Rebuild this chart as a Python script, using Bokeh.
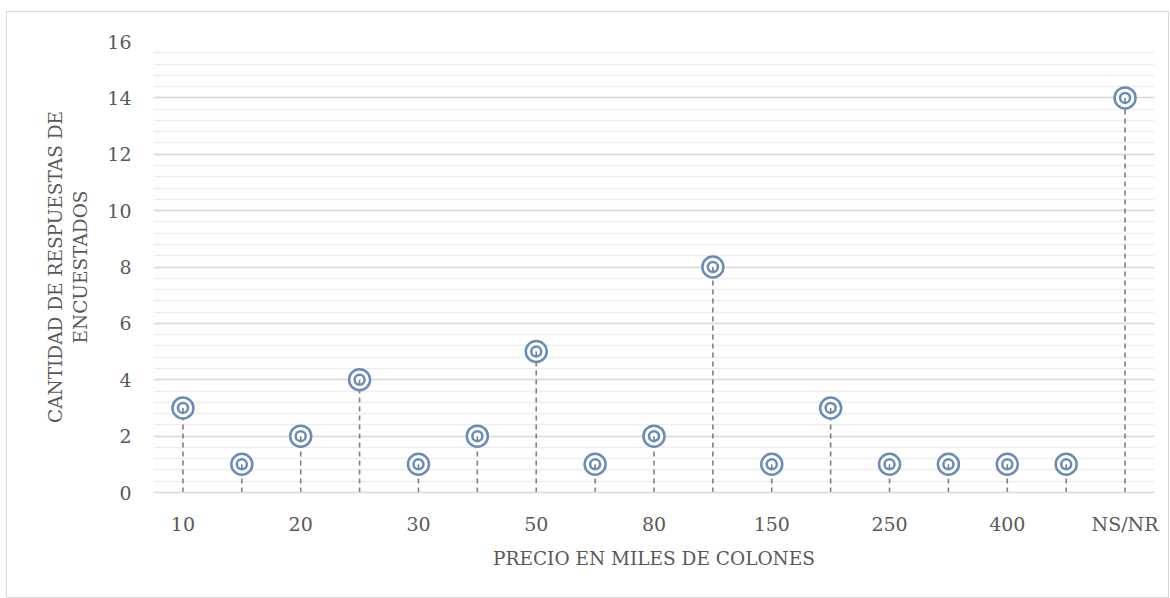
from bokeh.plotting import figure
from bokeh.models import Range1d, FixedTicker, ColumnDataSource
from bokeh.embed import file_html
from bokeh.resources import INLINE
import numpy as np

categories = ["10", "15", "20", "25", "30", "40", "50", "60", "80", "100",
              "150", "200", "250", "300", "400", "500", "NS/NR"]
values = [3, 1, 2, 4, 1, 2, 5, 1, 2, 8, 1, 3, 1, 1, 1, 1, 14]
y_ticks = [0, 2, 4, 6, 8, 10, 12, 14, 16]

FONT = "DejaVu Serif"
TXT = "#595959"

xs = list(range(len(categories)))
src = ColumnDataSource(dict(x=xs, y=values, y0=[0] * len(values),
                            yin=[v - 0.18 for v in values]))

p = figure(width=1163, height=587, output_backend="svg", toolbar_location=None,
           x_range=Range1d(-0.5, len(categories) - 0.5), y_range=Range1d(0, 16),
           min_border_left=146, min_border_right=16, min_border_top=29,
           min_border_bottom=107)
p.margin = (11, 0, 0, 6)
p.styles = {"border": "1px solid #d9d9d9"}
p.outline_line_color = None
p.background_fill_color = "white"

# grid
p.ygrid.ticker = FixedTicker(ticks=y_ticks, minor_ticks=list(np.round(np.arange(0, 16.01, 0.4), 2)))
p.ygrid.grid_line_color = "#d9d9d9"
p.ygrid.grid_line_width = 1.5
p.ygrid.minor_grid_line_color = "#eeeeee"
p.ygrid.minor_grid_line_width = 1.5
p.xgrid.grid_line_color = None

# axes
p.yaxis.ticker = FixedTicker(ticks=y_ticks)
p.yaxis.axis_line_color = None
p.yaxis.major_tick_line_color = None
p.yaxis.minor_tick_line_color = None
p.yaxis.major_label_text_font = FONT
p.yaxis.major_label_text_font_size = "19px"
p.yaxis.major_label_text_color = TXT
p.yaxis.major_label_standoff = 16
p.yaxis.axis_label = "CANTIDAD DE RESPUESTAS DE\nENCUESTADOS"
p.yaxis.axis_label_text_font = FONT
p.yaxis.axis_label_text_font_size = "18.5px"
p.yaxis.axis_label_text_font_style = "normal"
p.yaxis.axis_label_text_color = TXT
p.yaxis.axis_label_standoff = 13

shown = xs[::2]
p.xaxis.ticker = FixedTicker(ticks=shown)
p.xaxis.major_label_overrides = {i: categories[i] for i in shown}
p.xaxis.axis_line_color = "#d9d9d9"
p.xaxis.axis_line_width = 1.5
p.xaxis.major_tick_line_color = None
p.xaxis.minor_tick_line_color = None
p.xaxis.major_label_text_font = FONT
p.xaxis.major_label_text_font_size = "19px"
p.xaxis.major_label_text_color = TXT
p.xaxis.major_label_standoff = 14
p.xaxis.axis_label = "PRECIO EN MILES DE COLONES"
p.xaxis.axis_label_text_font = FONT
p.xaxis.axis_label_text_font_size = "18.5px"
p.xaxis.axis_label_text_font_style = "normal"
p.xaxis.axis_label_text_color = TXT
p.xaxis.axis_label_standoff = 10

# drop lines
p.segment(x0="x", y0="y0", x1="x", y1="y", source=src, line_color="#7f7f7f",
          line_width=1.6, line_dash="5 4")
# markers
p.scatter("x", "y", source=src, size=21, marker="circle", fill_color="white",
          line_color="#6a8bb8", line_width=2.5)
p.segment(x0="x", y0="yin", x1="x", y1="y", source=src, line_color="#7f7f7f",
          line_width=1.6)
p.scatter("x", "y", source=src, size=10, marker="circle", fill_color=None,
          line_color="#6a8bb8", line_width=2.5)

open("out.html", "w").write(file_html(p, INLINE))
